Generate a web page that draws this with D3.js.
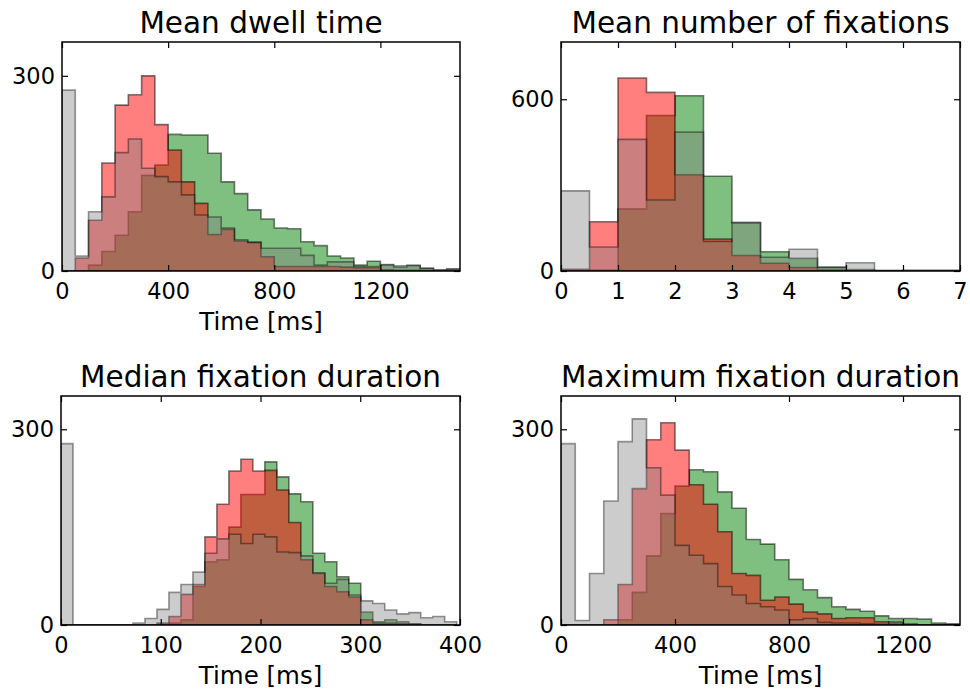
<!DOCTYPE html>
<html><head><meta charset="utf-8">
<script src="https://cdn.jsdelivr.net/npm/d3@7"></script>
<style>
body{margin:0;background:#fff}
svg{display:block}
text{font-family:"DejaVu Sans",sans-serif;fill:#000}
</style>
</head><body>
<svg id="chart" width="970" height="691"></svg>
<script>
// ---------- data ----------
const titles = ["Mean dwell time", "Mean number of fixations", "Median fixation duration", "Maximum fixation duration"];
const xLabels = ["Time [ms]", "", "Time [ms]", "Time [ms]"];

const xTicks = [[0, 400, 800, 1200], [0, 1, 2, 3, 4, 5, 6, 7], [0, 100, 200, 300, 400], [0, 400, 800, 1200]];
const yTicks = [[0, 300], [0, 600], [0, 300], [0, 300]];
const xDomains = [[0, 1500], [0, 7], [0, 400], [0, 1400]];
const yDomains = [[0, 352], [0, 800], [0, 351], [0, 351]];
const binStarts = [0, 0, 0, 0];
const binWidths = [50, 0.5, 396.7 / 33, 50];

// Mean dwell time (bins of 50 ms)
const dwellGreen = [0,0,9,30,55,91,147,163,210,209,209,181,137,119,94,80,66,65,45,39,23,20,9,15,9,6,8,4,1,3];
const dwellRed   = [0,20,78,166,255,271,300,225,186,137,104,56,64,46,44,22,7,7,7,7,7,6,5,5,2,1,1,0,0,0];
const dwellGrey  = [278,23,91,114,182,203,158,145,137,117,86,83,66,48,44,35,35,35,24,9,14,14,7,7,10,8,9,4,2,3];

// Mean number of fixations (bins of 0.5)
const countGreen = [0,3,217,543,612,331,168,67,44,14,5,2,0,0];
const countRed   = [6,172,674,624,336,112,54,27,12,3,1,0,0,0];
const countGrey  = [280,84,460,248,485,103,170,48,76,12,29,2,3,3];

// Median fixation duration (33 bins)
const medianGreen = [0,0,0,0,0,0,0,0,0,3,8,59,97,100,150,200,200,250,227,201,189,110,97,74,64,20,5,8,5,2,0,0,0];
const medianRed   = [0,0,0,0,0,0,0,0,3,13,47,62,135,185,236,254,236,237,207,157,100,79,59,51,43,8,3,3,2,1,0,0,0];
const medianGrey  = [278,0,0,0,0,0,3,10,24,50,62,81,110,132,139,125,139,135,112,111,106,80,64,70,46,37,33,23,17,19,11,13,5];

// Maximum fixation duration (bins of 50 ms)
const maxGreen = [0,0,0,0,8,50,106,171,213,238,235,204,179,131,124,100,70,54,42,28,24,21,14,10,10,9,3,2];
const maxRed   = [0,0,0,8,62,209,284,310,268,215,185,143,79,76,38,43,32,20,17,10,11,11,5,3,1,0,0,0];
const maxGrey  = [278,7,79,190,281,316,241,199,122,107,94,59,46,33,28,23,8,10,4,3,3,2,1,5,1,0,0,0];

const panelSeries = [
  [dwellGreen, dwellRed, dwellGrey],
  [countGreen, countRed, countGrey],
  [medianGreen, medianRed, medianGrey],
  [maxGreen, maxRed, maxGrey]
];

// ---------- styling / layout ----------
const seriesStyle = [
  {color: "#008000", alpha: 0.5},
  {color: "#ff0000", alpha: 0.5},
  {color: "#808080", alpha: 0.4}
];
const boxes = [
  {x0: 62, x1: 460, y0: 42, y1: 271},
  {x0: 561, x1: 960, y0: 42, y1: 271},
  {x0: 61, x1: 460, y0: 396, y1: 625},
  {x0: 561, x1: 960, y0: 396, y1: 625}
];
const TICK_FONT = 22.5, TITLE_FONT = 29.5, LABEL_FONT = 24.5;

const svg = d3.select("#chart");
svg.append("rect").attr("width", 970).attr("height", 691).attr("fill", "#fff");

panelSeries.forEach((series, i) => {
  const b = boxes[i];
  const x = d3.scaleLinear().domain(xDomains[i]).range([b.x0, b.x1]);
  const y = d3.scaleLinear().domain(yDomains[i]).range([b.y1, b.y0]);

  const clipId = "clip" + i;
  svg.append("clipPath").attr("id", clipId).append("rect")
    .attr("x", b.x0).attr("y", b.y0).attr("width", b.x1 - b.x0).attr("height", b.y1 - b.y0);

  const g = svg.append("g").attr("clip-path", `url(#${clipId})`);
  const line = d3.line().x(d => x(d[0])).y(d => y(d[1]));

  series.forEach((vals, s) => {
    const w = binWidths[i], st = binStarts[i];
    const pts = [[st, 0]];
    vals.forEach((v, j) => {
      pts.push([st + j * w, v]);
      pts.push([st + (j + 1) * w, v]);
    });
    pts.push([st + vals.length * w, 0]);
    g.append("path")
      .attr("d", line(pts) + "Z")
      .attr("fill", seriesStyle[s].color)
      .attr("fill-opacity", seriesStyle[s].alpha)
      .attr("stroke", "#000")
      .attr("stroke-opacity", seriesStyle[s].alpha)
      .attr("stroke-width", 1.6)
      .attr("stroke-linejoin", "miter");
  });

  // axes (ticks inside, on all four sides)
  const fmt = d3.format("d");
  const axB = svg.append("g").attr("transform", `translate(0,${b.y1})`)
    .call(d3.axisBottom(x).tickValues(xTicks[i]).tickFormat(fmt).tickSize(-6).tickSizeOuter(0).tickPadding(12.5));
  const axT = svg.append("g").attr("transform", `translate(0,${b.y0})`)
    .call(d3.axisTop(x).tickValues(xTicks[i]).tickFormat("").tickSize(-6).tickSizeOuter(0));
  const axL = svg.append("g").attr("transform", `translate(${b.x0},0)`)
    .call(d3.axisLeft(y).tickValues(yTicks[i]).tickFormat(fmt).tickSize(-6).tickSizeOuter(0).tickPadding(7));
  const axR = svg.append("g").attr("transform", `translate(${b.x1},0)`)
    .call(d3.axisRight(y).tickValues(yTicks[i]).tickFormat("").tickSize(-6).tickSizeOuter(0));
  [axB, axT, axL, axR].forEach(a => {
    a.select(".domain").remove();
    a.selectAll(".tick line").attr("stroke", "#000").attr("stroke-width", 1.2);
    a.selectAll("text").attr("font-size", TICK_FONT).attr("font-family", "DejaVu Sans, sans-serif").attr("fill", "#000");
  });

  // frame
  svg.append("rect").attr("x", b.x0).attr("y", b.y0)
    .attr("width", b.x1 - b.x0).attr("height", b.y1 - b.y0)
    .attr("fill", "none").attr("stroke", "#000").attr("stroke-width", 1.5);

  // title
  svg.append("text").attr("x", (b.x0 + b.x1) / 2).attr("y", b.y0 - 9)
    .attr("text-anchor", "middle").attr("font-size", TITLE_FONT).text(titles[i]);
  // x label
  if (xLabels[i]) {
    svg.append("text").attr("x", (b.x0 + b.x1) / 2).attr("y", b.y1 + 59)
      .attr("text-anchor", "middle").attr("font-size", LABEL_FONT).text(xLabels[i]);
  }
});
</script>
</body></html>
